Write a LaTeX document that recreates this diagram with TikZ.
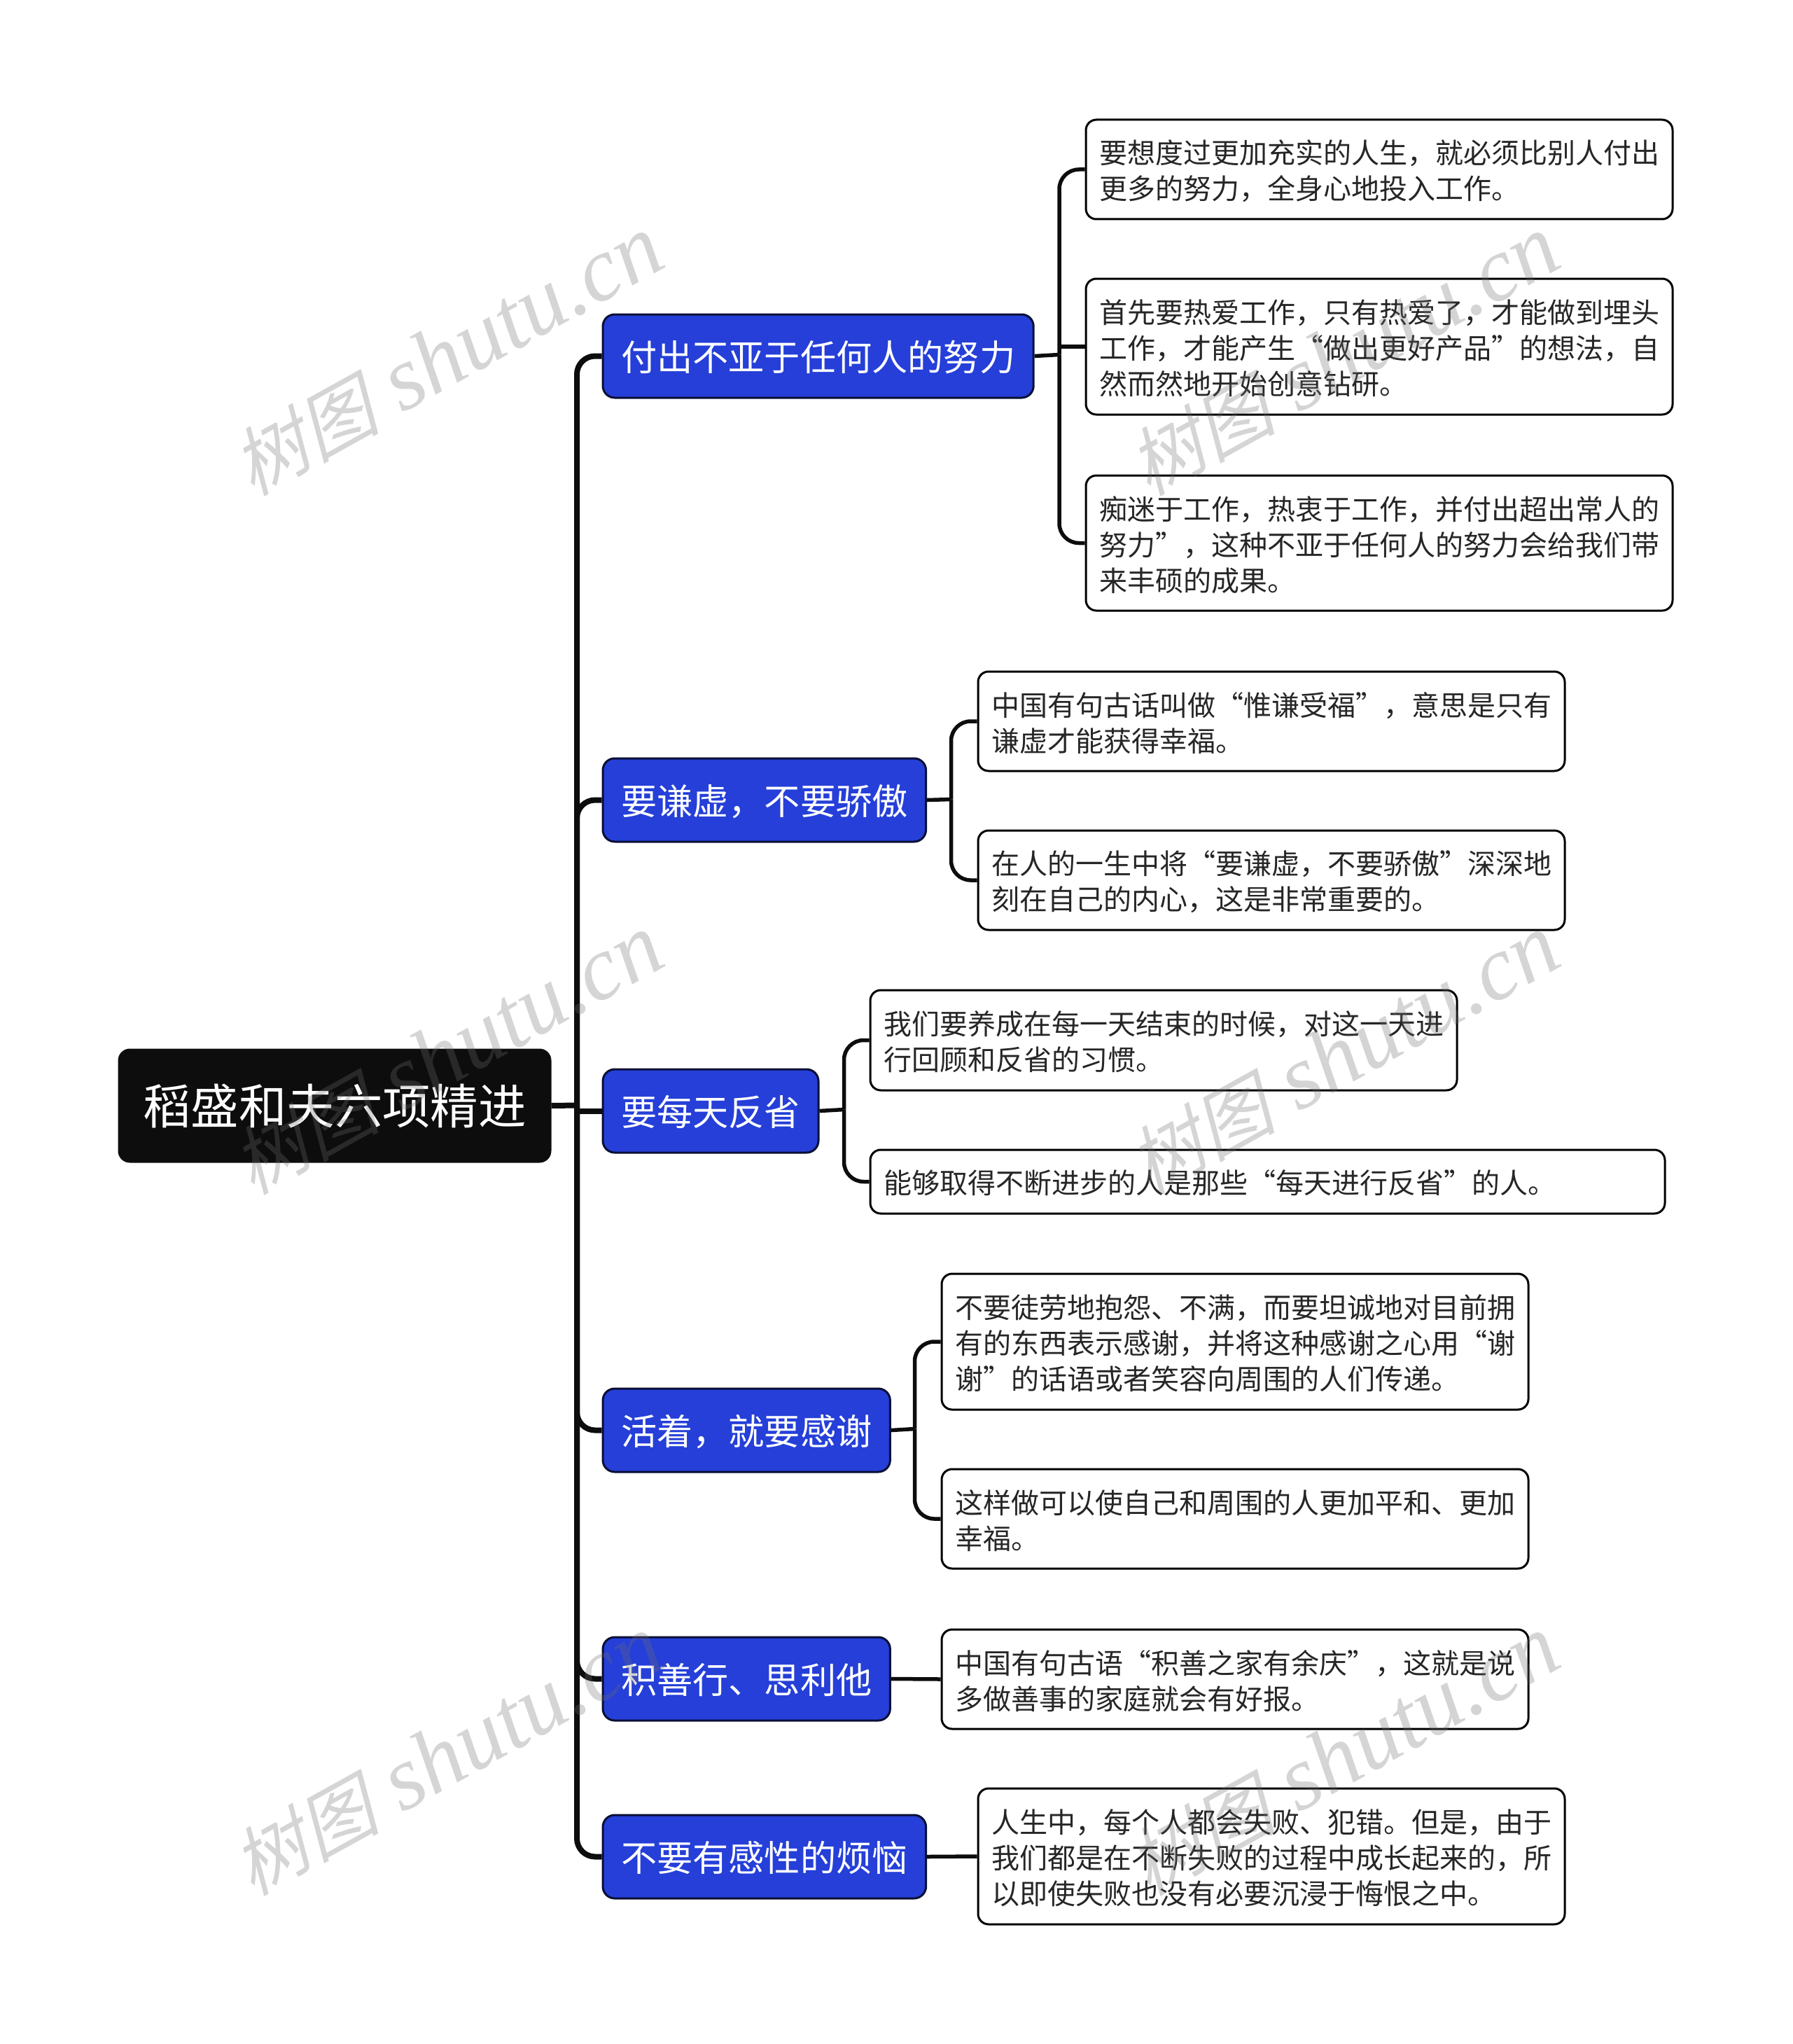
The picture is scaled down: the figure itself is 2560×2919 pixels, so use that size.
\documentclass[tikz,border=0pt]{standalone}
\usepackage{fontspec}
\setmainfont{Noto Sans CJK SC}
\newfontfamily\markcjk[FakeSlant=0.25]{Noto Sans CJK SC}
\newfontfamily\marklatin{Liberation Serif}
\definecolor{rootfill}{HTML}{0D0D0D}
\definecolor{topicfill}{HTML}{253FD8}
\definecolor{topicline}{HTML}{0A0F35}
\definecolor{leaftext}{HTML}{262626}
\tikzset{
  rootbox/.style={anchor=north west,draw=rootfill,fill=rootfill,text=white,rounded corners=16pt,line width=2pt,
    font=\fontsize{68.4}{80}\selectfont,minimum height=161pt,minimum width=617pt,inner sep=0pt},
  topicbox/.style={anchor=north west,draw=topicline,fill=topicfill,text=white,rounded corners=17pt,line width=3pt,
    font=\fontsize{51.2}{60}\selectfont,minimum height=119pt,inner xsep=26pt,inner ysep=0pt,
    text height=48pt,text depth=6pt},
  leafbox/.style={anchor=north west,draw=black,fill=white,text=leaftext,rounded corners=15pt,line width=3pt,
    font=\fontsize{40}{51}\selectfont,align=left,inner xsep=19pt,inner ysep=0pt,text width=800pt,
    execute at end node={\par\vspace*{-5pt}}},
  link/.style={draw=rootfill,line width=8pt,rounded corners=26pt},
  sublink/.style={draw=rootfill,line width=5.5pt,rounded corners=28pt},
  brand/.style={rotate=29,text=black!57,opacity=.29,inner sep=0pt}
}
\begin{document}
\begin{tikzpicture}[x=1pt,y=-1pt]
  \useasboundingbox (1.5,1.5) rectangle (2561.5,2920.5);
  % root and topics
  \node[rootbox] (root) at (170,1499) {稻盛和夫六项精进};
  \node[topicbox] (effort) at (861,449) {付出不亚于任何人的努力};
  \node[topicbox] (humble) at (861,1083) {要谦虚，不要骄傲};
  \node[topicbox] (reflect) at (861,1527) {要每天反省};
  \node[topicbox] (thanks) at (861,1983) {活着，就要感谢};
  \node[topicbox] (virtue) at (861,2338) {积善行、思利他};
  \node[topicbox] (worry) at (861,2592) {不要有感性的烦恼};
  % leaves
  \node[leafbox,minimum height=142pt] (effort1) at (1551,171)
    {要想度过更加充实的人生，就必须比别人付出\\更多的努力，全身心地投入工作。};
  \node[leafbox,minimum height=194pt] (effort2) at (1551,398)
    {首先要热爱工作，只有热爱了，才能做到埋头\\工作，才能产生“做出更好产品”的想法，自\\然而然地开始创意钻研。};
  \node[leafbox,minimum height=193pt] (effort3) at (1551,679)
    {痴迷于工作，热衷于工作，并付出超出常人的\\努力”，这种不亚于任何人的努力会给我们带\\来丰硕的成果。};
  \node[leafbox,minimum height=142pt] (humble1) at (1397,959)
    {中国有句古话叫做“惟谦受福”，意思是只有\\谦虚才能获得幸福。};
  \node[leafbox,minimum height=142pt] (humble2) at (1397,1186)
    {在人的一生中将“要谦虚，不要骄傲”深深地\\刻在自己的内心，这是非常重要的。};
  \node[leafbox,minimum height=143pt] (reflect1) at (1243,1414)
    {我们要养成在每一天结束的时候，对这一天进\\行回顾和反省的习惯。};
  \node[leafbox,minimum height=91pt,text width=1097pt] (reflect2) at (1243,1642)
    {能够取得不断进步的人是那些“每天进行反省”的人。};
  \node[leafbox,minimum height=194pt] (thanks1) at (1345,1819)
    {不要徒劳地抱怨、不满，而要坦诚地对目前拥\\有的东西表示感谢，并将这种感谢之心用“谢\\谢”的话语或者笑容向周围的人们传递。};
  \node[leafbox,minimum height=142pt] (thanks2) at (1345,2098)
    {这样做可以使自己和周围的人更加平和、更加\\幸福。};
  \node[leafbox,minimum height=142pt] (virtue1) at (1345,2327)
    {中国有句古语“积善之家有余庆”，这就是说\\多做善事的家庭就会有好报。};
  \node[leafbox,minimum height=194pt] (worry1) at (1397,2554)
    {人生中，每个人都会失败、犯错。但是，由于\\我们都是在不断失败的过程中成长起来的，所\\以即使失败也没有必要沉浸于悔恨之中。};
  % joints
  \coordinate (main) at (825.5,1580);
  \coordinate (effortj) at (1514.5,508);
  \coordinate (humblej) at (1360,1143);
  \coordinate (reflectj) at (1207,1586);
  \coordinate (thanksj) at (1308,2042);
  \begin{scope}[link]
    \draw (root.east) -- (main);
    \draw (main) |- (effort.west);
    \draw (main) |- (humble.west);
    \draw (main |- reflect.west) -- (reflect.west);
    \draw (main) |- (thanks.west);
    \draw (main) |- (virtue.west);
    \draw (main) |- (worry.west);
  \end{scope}
  \begin{scope}[sublink]
    \draw (effort.east) -- (effortj);
    \draw (effortj) |- (effort1.west);
    \draw (effortj |- effort2.west) -- (effort2.west);
    \draw (effortj) |- (effort3.west);
    \draw (humble.east) -- (humblej);
    \draw (humblej) |- (humble1.west);
    \draw (humblej) |- (humble2.west);
    \draw (reflect.east) -- (reflectj);
    \draw (reflectj) |- (reflect1.west);
    \draw (reflectj) |- (reflect2.west);
    \draw (thanks.east) -- (thanksj);
    \draw (thanksj) |- (thanks1.west);
    \draw (thanksj) |- (thanks2.west);
    \draw (virtue.east) -- (virtue1.west);
    \draw (worry.east) -- (worry1.west);
  \end{scope}
  % watermarks
  \foreach \col/\row [count=\n] in {640/510,1920/510,640/1508,1920/1508,640/2509,1920/2509}
    \node[brand] (mark\n) at (\col,\row)
      {\fontsize{106}{130}\markcjk 树图\fontsize{130}{130}\marklatin\itshape\ shutu.cn};
\end{tikzpicture}
\end{document}
